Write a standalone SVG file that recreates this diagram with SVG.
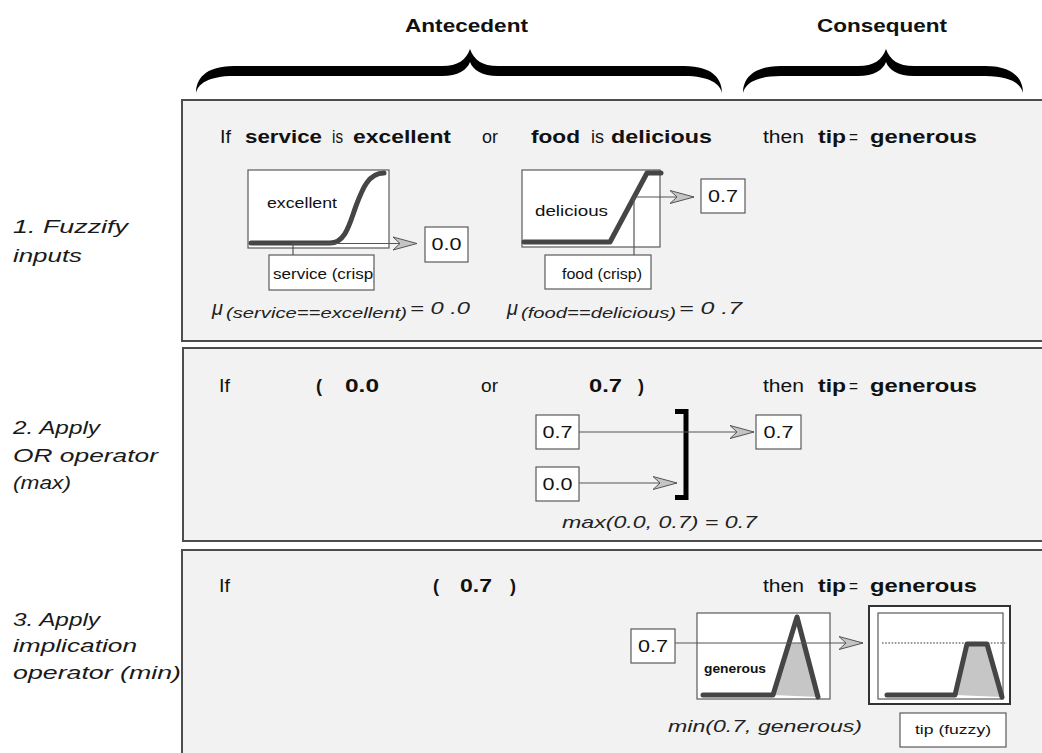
<svg xmlns="http://www.w3.org/2000/svg" width="1042" height="753" viewBox="0 0 1042 753">
  <style>
    text { font-family: "Liberation Sans", Arial, sans-serif; fill: #111; }
    .b { font-weight: bold; }
    .it { font-style: italic; }
    .hdr { font-size: 18px; font-weight: bold; }
    .rule { font-size: 18px; }
    .step { font-size: 19px; font-style: italic; fill: #1a1a1a; }
    .panel { fill: #f2f2f2; stroke: #4d4d4d; stroke-width: 2; }
    .box { fill: #fff; stroke: #5a5a5a; stroke-width: 1.2; }
    .outer { fill: #fff; stroke: #333; stroke-width: 2; }
    .mf { fill: none; stroke: #454545; stroke-width: 5; stroke-linecap: round; stroke-linejoin: round; }
    .shade { fill: #c6c6c6; }
    .wire { fill: none; stroke: #555; stroke-width: 1.2; }
    .arrow { marker-end: url(#dart); }
    .dots { fill: none; stroke: #777; stroke-width: 1.3; stroke-dasharray: 1.6 1.6; }
    .val { font-size: 16px; }
    .lbl { font-size: 14px; }
    .small { font-size: 12px; }
    .formula { font-size: 17px; font-style: italic; fill: #222; }
    .mu { font-size: 20px; font-style: italic; fill: #222; }
    .sub { font-size: 15px; font-style: italic; fill: #222; }
    .brace { fill: #000; }
  </style>
  <defs>
    <marker id="dart" markerUnits="userSpaceOnUse" markerWidth="26" markerHeight="16" viewBox="0 -8 26 16" refX="24" refY="0" orient="auto">
      <path d="M0,-6.5 L24,0 L0,6.5 L7,0 Z" fill="#c4c4c4" stroke="#555" stroke-width="1"/>
    </marker>
    <clipPath id="clipServiceCrisp"><rect x="269" y="255" width="105" height="35"/></clipPath>
  </defs>

  <!-- column headers and braces -->
  <g id="antecedent-header">
    <text x="405" y="32" class="hdr" textLength="123" lengthAdjust="spacingAndGlyphs">Antecedent</text>
    <path class="brace" d="M196,93 C196,80 204,66 234,66 L442,66 C458,66 466,60 470,49 C474,60 482,66 498,66 L684,66 C714,66 722,80 722,93 C720,84 710,76 684,76 L498,76 C482,76 473,70 470,62 C467,70 458,76 442,76 L234,76 C208,76 198,84 196,93 Z"/>
  </g>
  <g id="consequent-header">
    <text x="817" y="32" class="hdr" textLength="130" lengthAdjust="spacingAndGlyphs">Consequent</text>
    <path class="brace" d="M743,93 C743,80 751,66 781,66 L858,66 C874,66 882,60 886,49 C890,60 898,66 914,66 L985,66 C1015,66 1023,80 1023,93 C1021,84 1011,76 985,76 L914,76 C898,76 889,70 886,62 C883,70 874,76 858,76 L781,76 C755,76 745,84 743,93 Z"/>
  </g>

  <!-- step labels -->
  <g id="step1-label">
    <text x="13" y="233" class="step" textLength="115" lengthAdjust="spacingAndGlyphs">1. Fuzzify</text>
    <text x="13" y="262" class="step" textLength="69" lengthAdjust="spacingAndGlyphs">inputs</text>
  </g>
  <g id="step2-label">
    <text x="13" y="434" class="step" textLength="87" lengthAdjust="spacingAndGlyphs">2. Apply</text>
    <text x="13" y="462" class="step" textLength="145" lengthAdjust="spacingAndGlyphs">OR operator</text>
    <text x="13" y="489" class="step" textLength="58" lengthAdjust="spacingAndGlyphs">(max)</text>
  </g>
  <g id="step3-label">
    <text x="13" y="626" class="step" textLength="87" lengthAdjust="spacingAndGlyphs">3. Apply</text>
    <text x="13" y="652" class="step" textLength="124" lengthAdjust="spacingAndGlyphs">implication</text>
    <text x="13" y="679" class="step" textLength="168" lengthAdjust="spacingAndGlyphs">operator (min)</text>
  </g>

  <!-- panels -->
  <g id="panel-fuzzify"><rect class="panel" x="182" y="100" width="880" height="241"/></g>
  <g id="panel-or"><rect class="panel" x="183" y="348" width="880" height="193"/></g>
  <g id="panel-implication"><rect class="panel" x="182" y="550" width="880" height="220"/></g>

  <!-- step 1 rule text -->
  <g id="rule1">
    <text x="220" y="143" class="rule" textLength="11" lengthAdjust="spacingAndGlyphs">If</text>
    <text x="245" y="143" class="rule b" textLength="77" lengthAdjust="spacingAndGlyphs">service</text>
    <text x="332" y="143" class="rule" textLength="11" lengthAdjust="spacingAndGlyphs">is</text>
    <text x="353" y="143" class="rule b" textLength="98" lengthAdjust="spacingAndGlyphs">excellent</text>
    <text x="482" y="143" class="rule" textLength="16" lengthAdjust="spacingAndGlyphs">or</text>
    <text x="531" y="143" class="rule b" textLength="49" lengthAdjust="spacingAndGlyphs">food</text>
    <text x="591" y="143" class="rule" textLength="13" lengthAdjust="spacingAndGlyphs">is</text>
    <text x="611" y="143" class="rule b" textLength="101" lengthAdjust="spacingAndGlyphs">delicious</text>
    <text x="763" y="143" class="rule" textLength="41" lengthAdjust="spacingAndGlyphs">then</text>
    <text x="818" y="143" class="rule b" textLength="28" lengthAdjust="spacingAndGlyphs">tip</text>
    <text x="849" y="143" class="rule" textLength="9" lengthAdjust="spacingAndGlyphs">=</text>
    <text x="870" y="143" class="rule b" textLength="107" lengthAdjust="spacingAndGlyphs">generous</text>
  </g>

  <!-- service membership plot -->
  <g id="mf-excellent">
    <rect class="box" x="248" y="170" width="141" height="78"/>
    <path class="mf" d="M251,243 L330,243 C346,243 350,222 356,206 C362,190 368,173 384,173"/>
    <text x="267" y="208" class="lbl" textLength="70" lengthAdjust="spacingAndGlyphs">excellent</text>
  </g>
  <g id="input-service">
    <rect class="box" x="269" y="255" width="105" height="35"/>
    <text x="273" y="279" class="lbl" clip-path="url(#clipServiceCrisp)" textLength="106" lengthAdjust="spacingAndGlyphs">service (crisp)</text>
  </g>
  <g id="value-service">
    <rect class="box" x="425" y="227" width="43" height="35"/>
    <text x="446.5" y="250" class="val" text-anchor="middle" textLength="30" lengthAdjust="spacingAndGlyphs">0.0</text>
  </g>
  <g id="mu-service">
    <text x="212" y="315" class="mu">μ</text>
    <text x="226" y="318" class="sub" textLength="181" lengthAdjust="spacingAndGlyphs">(service==excellent)</text>
    <text x="410" y="314" class="formula" font-size="19" textLength="60" lengthAdjust="spacingAndGlyphs">= 0 .0</text>
  </g>

  <!-- food membership plot -->
  <g id="mf-delicious">
    <rect class="box" x="522" y="170" width="138" height="77"/>
    <path class="mf" d="M524,242 L610,242 L647,173 L661,173"/>
    <text x="535" y="216" class="lbl" textLength="73" lengthAdjust="spacingAndGlyphs">delicious</text>
  </g>
  <g id="input-food">
    <rect class="box" x="545" y="255" width="106" height="34"/>
    <text x="562" y="279" class="lbl" textLength="80" lengthAdjust="spacingAndGlyphs">food (crisp)</text>
  </g>
  <g id="value-food">
    <rect class="box" x="701" y="179" width="44" height="34"/>
    <text x="723" y="202" class="val" text-anchor="middle" textLength="30" lengthAdjust="spacingAndGlyphs">0.7</text>
  </g>
  <g id="mu-food">
    <text x="507" y="315" class="mu">μ</text>
    <text x="521" y="318" class="sub" textLength="155" lengthAdjust="spacingAndGlyphs">(food==delicious)</text>
    <text x="679" y="314" class="formula" font-size="19" textLength="63" lengthAdjust="spacingAndGlyphs">= 0 .7</text>
  </g>

  <!-- step 2 rule text -->
  <g id="rule2">
    <text x="219" y="392" class="rule" textLength="11" lengthAdjust="spacingAndGlyphs">If</text>
    <text x="316" y="392" class="rule b">(</text>
    <text x="345" y="392" class="rule b" textLength="34" lengthAdjust="spacingAndGlyphs">0.0</text>
    <text x="481" y="392" class="rule" textLength="17" lengthAdjust="spacingAndGlyphs">or</text>
    <text x="589" y="392" class="rule b" textLength="33" lengthAdjust="spacingAndGlyphs">0.7</text>
    <text x="638" y="392" class="rule b">)</text>
    <text x="763" y="392" class="rule" textLength="41" lengthAdjust="spacingAndGlyphs">then</text>
    <text x="818" y="392" class="rule b" textLength="28" lengthAdjust="spacingAndGlyphs">tip</text>
    <text x="849" y="392" class="rule" textLength="9" lengthAdjust="spacingAndGlyphs">=</text>
    <text x="870" y="392" class="rule b" textLength="107" lengthAdjust="spacingAndGlyphs">generous</text>
  </g>
  <g id="or-in-food">
    <rect class="box" x="536" y="415" width="43" height="34"/>
    <text x="557.5" y="438" class="val" text-anchor="middle" textLength="30" lengthAdjust="spacingAndGlyphs">0.7</text>
  </g>
  <g id="or-in-service">
    <rect class="box" x="536" y="467" width="43" height="34"/>
    <text x="557.5" y="490" class="val" text-anchor="middle" textLength="30" lengthAdjust="spacingAndGlyphs">0.0</text>
  </g>
  <g id="or-max-bracket">
    <path d="M675,411.5 L686,411.5 L686,497.5 L675,497.5" fill="none" stroke="#000" stroke-width="5"/>
  </g>
  <g id="or-out">
    <rect class="box" x="756" y="415" width="45" height="34"/>
    <text x="778.5" y="438" class="val" text-anchor="middle" textLength="30" lengthAdjust="spacingAndGlyphs">0.7</text>
  </g>
  <g id="max-caption">
    <text x="562" y="528" class="formula" textLength="195" lengthAdjust="spacingAndGlyphs">max(0.0, 0.7) = 0.7</text>
  </g>

  <!-- step 3 rule text -->
  <g id="rule3">
    <text x="219" y="592" class="rule" textLength="11" lengthAdjust="spacingAndGlyphs">If</text>
    <text x="433" y="592" class="rule b">(</text>
    <text x="460" y="592" class="rule b" textLength="32" lengthAdjust="spacingAndGlyphs">0.7</text>
    <text x="510" y="592" class="rule b">)</text>
    <text x="763" y="592" class="rule" textLength="41" lengthAdjust="spacingAndGlyphs">then</text>
    <text x="818" y="592" class="rule b" textLength="28" lengthAdjust="spacingAndGlyphs">tip</text>
    <text x="849" y="592" class="rule" textLength="9" lengthAdjust="spacingAndGlyphs">=</text>
    <text x="870" y="592" class="rule b" textLength="107" lengthAdjust="spacingAndGlyphs">generous</text>
  </g>
  <g id="impl-in">
    <rect class="box" x="631" y="629" width="44" height="34"/>
    <text x="653" y="652" class="val" text-anchor="middle" textLength="30" lengthAdjust="spacingAndGlyphs">0.7</text>
  </g>
  <g id="mf-generous">
    <rect class="box" x="697" y="613" width="133" height="86"/>
    <polygon class="shade" points="773,695 789,643 804,643 818,697"/>
    <path class="mf" d="M703,695 L773,695 L797,617 L818,697"/>
    <text x="704" y="673" class="small b" textLength="62" lengthAdjust="spacingAndGlyphs">generous</text>
  </g>
  <g id="tip-fuzzy-plot">
    <rect class="outer" x="869" y="606" width="141" height="98"/>
    <rect class="box" x="878" y="613" width="125" height="86"/>
    <line class="dots" x1="882" y1="643" x2="1007" y2="643"/>
    <polygon class="shade" points="955,695 967,644 987,644 1002,697"/>
    <path class="mf" d="M887,695 L955,695 L967,644 L987,644 L1002,697"/>
  </g>
  <g id="tip-fuzzy-label">
    <rect class="box" x="900" y="713" width="106" height="34"/>
    <text x="953" y="734" class="small" text-anchor="middle" textLength="76" lengthAdjust="spacingAndGlyphs">tip (fuzzy)</text>
  </g>
  <g id="min-caption">
    <text x="668" y="732" class="formula" textLength="194" lengthAdjust="spacingAndGlyphs">min(0.7, generous)</text>
  </g>

  <!-- connectors -->
  <g id="connectors">
    <line class="wire" x1="293" y1="243" x2="293" y2="255"/>
    <line class="wire arrow" x1="293" y1="243.5" x2="417" y2="243.5"/>
    <line class="wire" x1="634" y1="197" x2="634" y2="255"/>
    <line class="wire arrow" x1="634" y1="197" x2="694" y2="197"/>
    <line class="wire arrow" x1="579" y1="432" x2="754" y2="432"/>
    <line class="wire arrow" x1="579" y1="483" x2="677" y2="483"/>
    <line class="wire arrow" x1="675" y1="643" x2="863" y2="643"/>
  </g>
</svg>
